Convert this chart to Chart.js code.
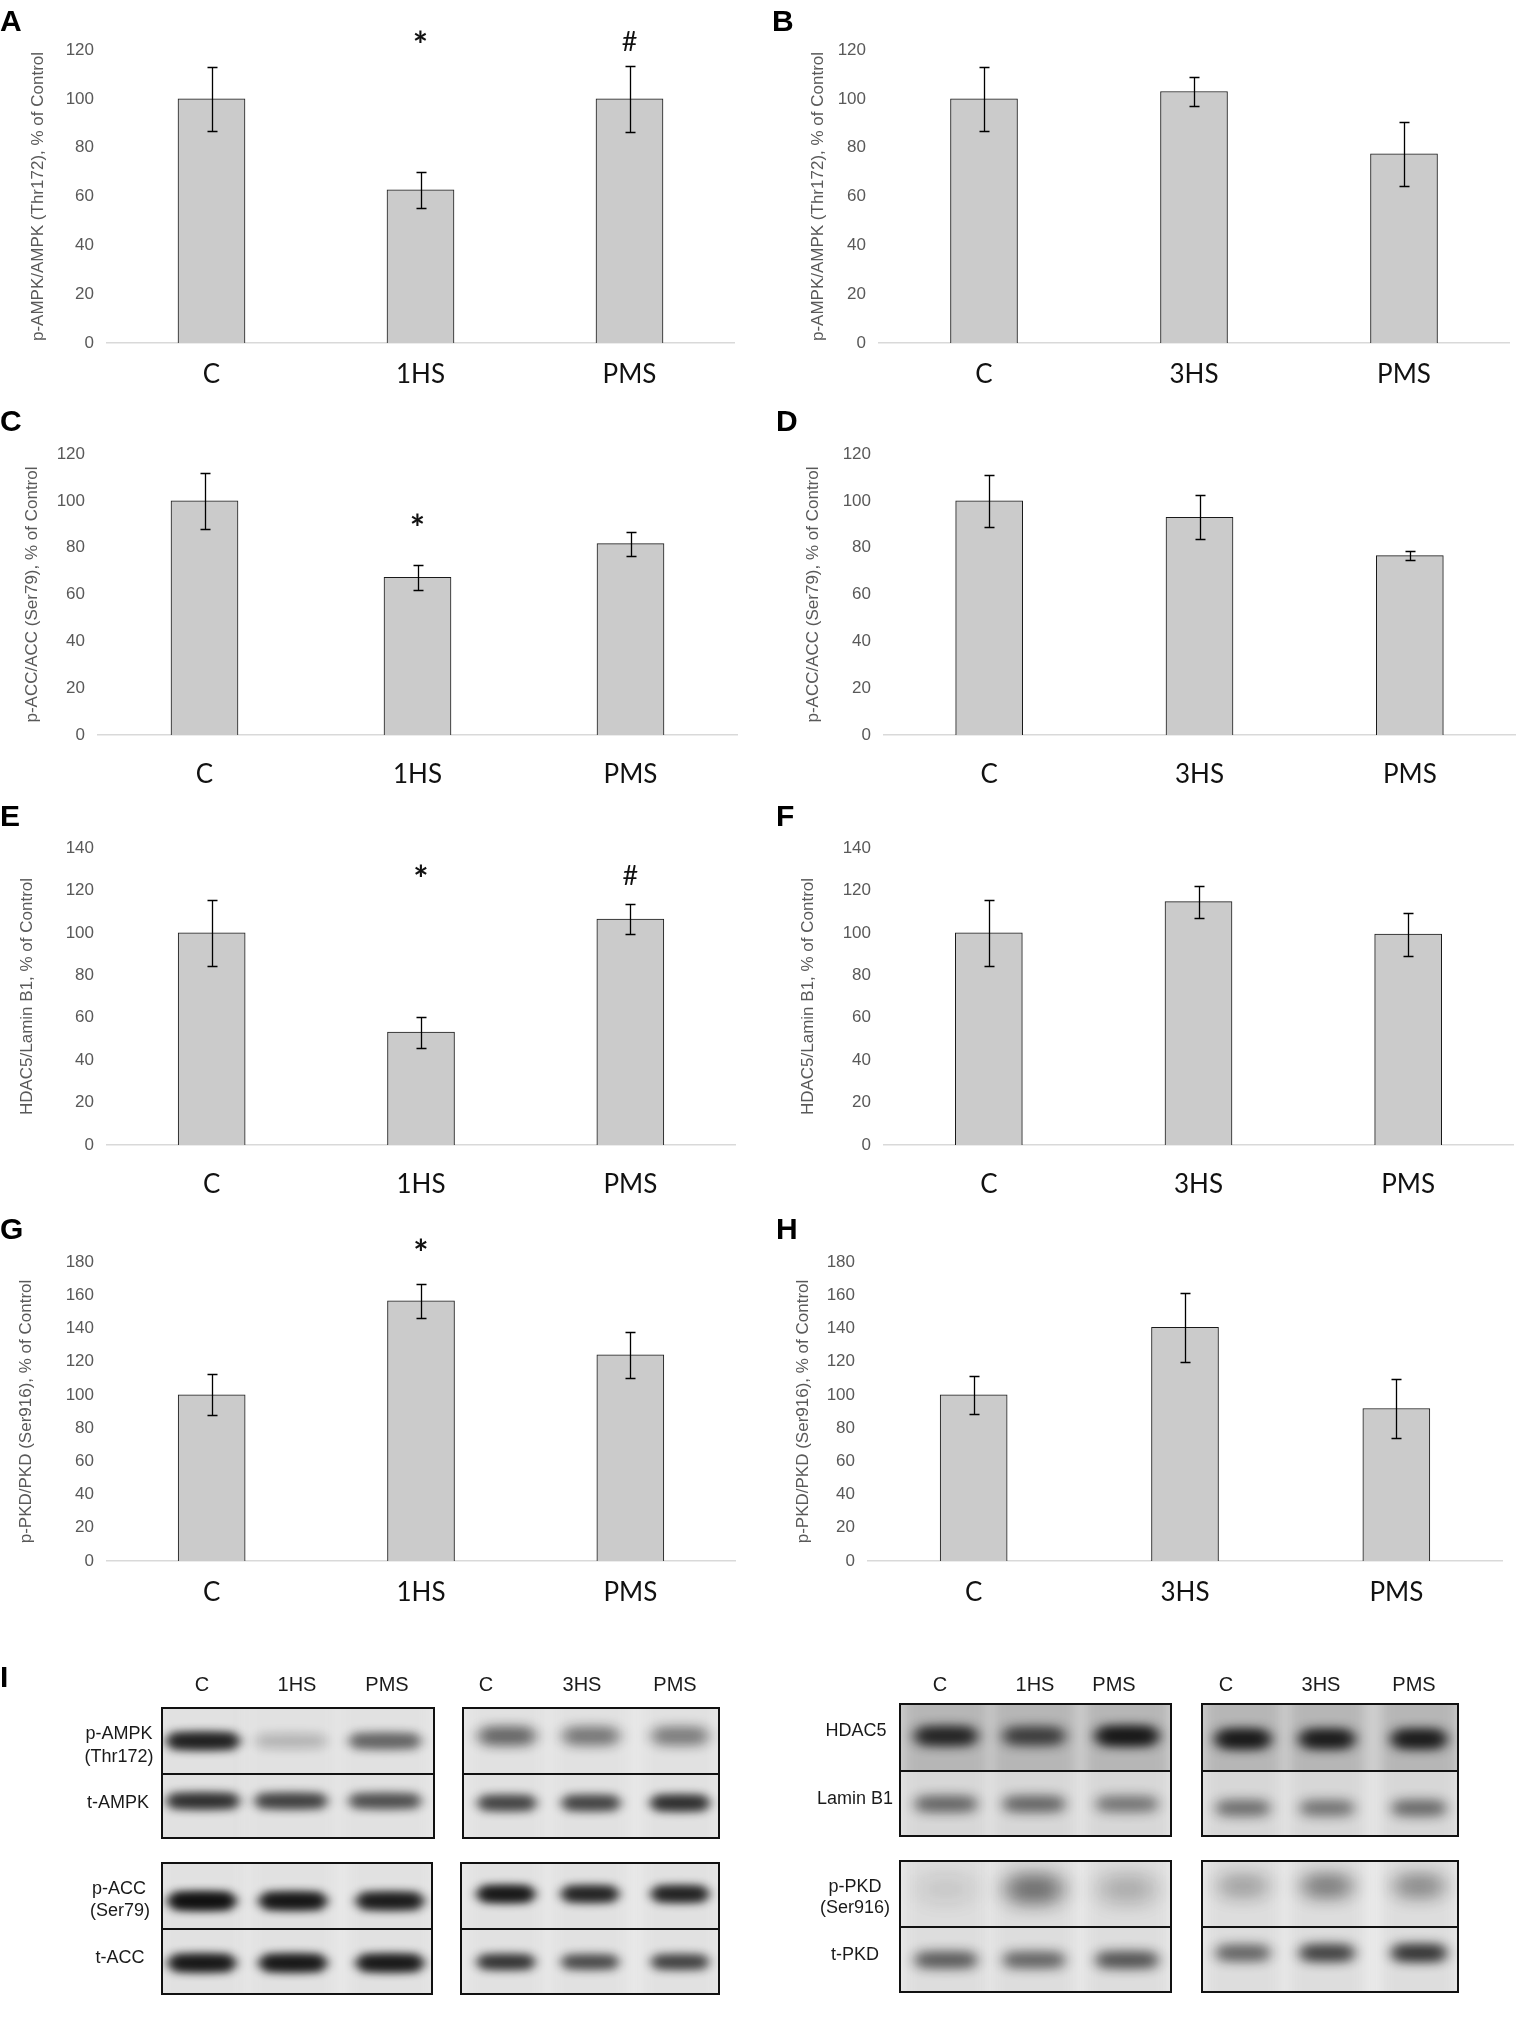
<!DOCTYPE html>
<html>
<head>
<meta charset="utf-8">
<title>AMPK / ACC / HDAC5 / PKD</title>
<script src="https://cdn.jsdelivr.net/npm/chart.js@4.4.1/dist/chart.umd.min.js"></script>
<style>
  body { margin: 0; background: #fff; width: 1521px; height: 2017px; position: relative; overflow: hidden;
         font-family: "Liberation Sans", Arial, sans-serif; }
  canvas.panel { position: absolute; }
  .letter { position: absolute; font-weight: bold; font-size: 30px; line-height: 1; color: #000; }
  .bt { position: absolute; line-height: 1; color: #1a1a1a; white-space: nowrap; text-align: center;
        transform: translate(-50%, -50%); }
</style>
</head>
<body>
<canvas id="blots" width="1521" height="2017" style="position:absolute;left:0;top:0"></canvas>
<script>
// ---- data ----
var cats1 = ['C', '1HS', 'PMS'];
var cats3 = ['C', '3HS', 'PMS'];

var ampk1 = [100, 62.7, 100];
var ampk1Err = [13, 7.5, 13.6];
var ampk1Marks = ['', '*', '#'];
var ampk3 = [100, 103, 77.5];
var ampk3Err = [13, 6.1, 13.1];

var acc1 = [100, 67.3, 81.7];
var acc1Err = [12, 5.5, 5.2];
var acc1Marks = ['', '*', ''];
var acc3 = [100, 93, 76.6];
var acc3Err = [11, 9.4, 1.8];

var hdac1 = [100, 53.2, 106.5];
var hdac1Err = [15.5, 7.3, 7];
var hdac1Marks = ['', '*', '#'];
var hdac3 = [100, 114.7, 99.4];
var hdac3Err = [15.5, 7.6, 10.1];

var pkd1 = [100, 156.6, 124.1];
var pkd1Err = [12.4, 10.2, 14];
var pkd1Marks = ['', '*', ''];
var pkd3 = [100, 140.6, 91.8];
var pkd3Err = [11.5, 20.8, 17.5];

// band intensities of the western blots (lane order as labelled)
var pAmpkI = [0.72, 0.1, 0.36];
var tAmpkI = [0.62, 0.52, 0.45];
var pAmpkIII = [0.36, 0.3, 0.28];
var tAmpkIII = [0.5, 0.5, 0.62];
var pAccI = [0.9, 0.82, 0.76];
var tAccI = [0.8, 0.8, 0.78];
var pAccIII = [0.82, 0.7, 0.72];
var tAccIII = [0.6, 0.48, 0.52];
var hdacBandI = [0.68, 0.5, 0.82];
var laminI = [0.36, 0.36, 0.3];
var hdacBandIII = [0.8, 0.76, 0.76];
var laminIII = [0.32, 0.3, 0.34];
var pPkdI = [0.05, 0.32, 0.12];
var tPkdI = [0.42, 0.38, 0.46];
var pPkdIII = [0.15, 0.26, 0.22];
var tPkdIII = [0.38, 0.54, 0.62];

// ---- panel layout ----
var panels = [
  {letter:'A', labels:cats1, values:ampk1, errors:ampk1Err, marks:ampk1Marks, max:120,
   title:'p-AMPK/AMPK (Thr172), % of Control', col:0, axisL:107, axisR:734, top:50, bottom:343, titleX:38, xPad:16, markAt:119.5, lx:0, ly:10},
  {letter:'B', labels:cats3, values:ampk3, errors:ampk3Err, marks:null, max:120,
   title:'p-AMPK/AMPK (Thr172), % of Control', col:760, axisL:879, axisR:1509, top:50, bottom:343, titleX:818, xPad:16, lx:772, ly:10},
  {letter:'C', labels:cats1, values:acc1, errors:acc1Err, marks:acc1Marks, max:120,
   title:'p-ACC/ACC (Ser79), % of Control', col:0, axisL:98, axisR:737, top:454, bottom:735, titleX:32, xPad:24, markAt:86, lx:0, ly:410},
  {letter:'D', labels:cats3, values:acc3, errors:acc3Err, marks:null, max:120,
   title:'p-ACC/ACC (Ser79), % of Control', col:760, axisL:884, axisR:1515, top:454, bottom:735, titleX:813, xPad:24, lx:776, ly:410},
  {letter:'E', labels:cats1, values:hdac1, errors:hdac1Err, marks:hdac1Marks, max:140,
   title:'HDAC5/Lamin B1, % of Control', col:0, axisL:107, axisR:735, top:848, bottom:1145, titleX:27, xPad:24, markAt:122.6, lx:0, ly:805},
  {letter:'F', labels:cats3, values:hdac3, errors:hdac3Err, marks:null, max:140,
   title:'HDAC5/Lamin B1, % of Control', col:760, axisL:884, axisR:1513, top:848, bottom:1145, titleX:808, xPad:24, lx:776, ly:805},
  {letter:'G', labels:cats1, values:pkd1, errors:pkd1Err, marks:pkd1Marks, max:180,
   title:'p-PKD/PKD (Ser916), % of Control', col:0, axisL:107, axisR:735, top:1262, bottom:1561, titleX:26, xPad:16, markAt:182, lx:0, ly:1218},
  {letter:'H', labels:cats3, values:pkd3, errors:pkd3Err, marks:null, max:180,
   title:'p-PKD/PKD (Ser916), % of Control', col:760, axisL:868, axisR:1502, top:1262, bottom:1561, titleX:803, xPad:16, lx:776, ly:1218}
];

var PAD_TOP = 48, X_H = 60;
var tickFont = { family: '"Liberation Sans", Arial, sans-serif', size: 17 };
var catFont = { family: 'Lato, "Open Sans", sans-serif', size: 26 };

// error bars + significance marks
var errorBarPlugin = {
  id: 'errorBars',
  afterDatasetsDraw: function(chart) {
    var ds = chart.data.datasets[0];
    var meta = chart.getDatasetMeta(0);
    var y = chart.scales.y;
    var ctx = chart.ctx;
    ctx.save();
    ctx.strokeStyle = '#000';
    ctx.lineWidth = 1.3;
    meta.data.forEach(function(bar, i) {
      var v = ds.data[i], e = ds.errors[i];
      var y1 = Math.round(y.getPixelForValue(v + e)) + 0.5;
      var y2 = Math.round(y.getPixelForValue(v - e)) + 0.5;
      var x = Math.round(bar.x) + 0.5;
      ctx.beginPath();
      ctx.moveTo(x, y1); ctx.lineTo(x, y2);
      ctx.moveTo(x - 5, y1); ctx.lineTo(x + 5, y1);
      ctx.moveTo(x - 5, y2); ctx.lineTo(x + 5, y2);
      ctx.stroke();
    });
    if (ds.marks) {
      var base = y.getPixelForValue(chart.options.plugins.errorBars.markAt);
      ctx.fillStyle = '#111';
      ctx.textAlign = 'center';
      ctx.textBaseline = 'alphabetic';
      meta.data.forEach(function(bar, i) {
        var m = ds.marks[i];
        if (!m) return;
        if (m === '*') {
          ctx.font = 'bold 36px Lato, "Open Sans", sans-serif';
          ctx.fillText(m, bar.x, base + 7);
        } else {
          ctx.font = '27px Lato, "Open Sans", sans-serif';
          ctx.fillText(m, bar.x, base);
        }
      });
    }
    ctx.restore();
  }
};

function addText(cls, txt, x, y, size) {
  var d = document.createElement('div');
  d.className = cls;
  d.textContent = txt;
  d.style.left = x + 'px';
  d.style.top = y + 'px';
  if (size) d.style.fontSize = size + 'px';
  document.body.appendChild(d);
  return d;
}

panels.forEach(function(p) {
  var W = p.col === 0 ? 760 : 761;
  var H = PAD_TOP + (p.bottom - p.top) + X_H;
  var cv = document.createElement('canvas');
  cv.className = 'panel';
  cv.width = W; cv.height = H;
  cv.style.left = p.col + 'px';
  cv.style.top = (p.top - PAD_TOP) + 'px';
  document.body.appendChild(cv);

  var yw = p.axisL - p.col;
  new Chart(cv.getContext('2d'), {
    type: 'bar',
    data: {
      labels: p.labels,
      datasets: [{
        data: p.values,
        errors: p.errors,
        marks: p.marks,
        backgroundColor: '#cbcbcb',
        borderColor: '#1a1a1a',
        borderWidth: 1,
        barThickness: 67
      }]
    },
    options: {
      responsive: false,
      animation: false,
      devicePixelRatio: 1,
      layout: { padding: { top: PAD_TOP, left: 0, bottom: 0, right: p.col + W - p.axisR } },
      plugins: {
        legend: { display: false },
        tooltip: { enabled: false },
        errorBars: { markAt: p.markAt }
      },
      scales: {
        x: {
          grid: { display: false, drawTicks: false },
          border: { display: true, color: '#d9d9d9', width: 1.5 },
          ticks: { font: catFont, color: '#111', padding: p.xPad, maxRotation: 0 },
          afterFit: function(s) { s.height = X_H; }
        },
        y: {
          min: 0, max: p.max,
          grid: { display: false, drawTicks: false },
          border: { display: false },
          ticks: { stepSize: 20, font: tickFont, color: '#595959', padding: 13 },
          title: {
            display: true, text: p.title, color: '#595959',
            font: { family: '"Liberation Sans", Arial, sans-serif', size: 17 },
            padding: { top: p.titleX - p.col - 10.2, bottom: 0 }
          },
          afterFit: function(s) { s.width = yw; }
        }
      }
    },
    plugins: [errorBarPlugin]
  });

  addText('letter', p.letter, p.lx, p.ly - 4);
});
addText('letter', 'I', 0, 1662);

// ---- western blot panel I ----
var g1 = { x0: 162, x1: 434, lanes: [203, 291, 385], bw: 80 };
var g1b = { x0: 162, x1: 432, lanes: [202, 293, 390], bw: 74 };
var g2 = { x0: 463, x1: 719, lanes: [507, 591, 680], bw: 66 };
var g2b = { x0: 461, x1: 719, lanes: [506, 590, 680], bw: 64 };
var g3 = { x0: 900, x1: 1171, lanes: [946, 1034, 1127], bw: 70 };
var g4 = { x0: 1202, x1: 1458, lanes: [1243, 1327, 1419], bw: 62 };

var bgLight = { lane: '#e1e1e1', gap: '#ebebeb' };
var bgHdac = { lane: '#b6b6b6', gap: '#d0d0d0' };
var bgLamin = { lane: '#d7d7d7', gap: '#e5e5e5' };
var bgPkd = { lane: '#dddddd', gap: '#ebebeb' };

var strips = [
  [g1, 1708, 1774, 1741, pAmpkI, bgLight, 16, 5],
  [g1, 1774, 1838, 1801, tAmpkI, bgLight, 15, 5],
  [g2, 1708, 1774, 1736, pAmpkIII, bgLight, 18, 6],
  [g2, 1774, 1838, 1803, tAmpkIII, bgLight, 15, 5],
  [g1b, 1863, 1929, 1901, pAccI, bgLight, 16, 5],
  [g1b, 1929, 1994, 1963, tAccI, bgLight, 16, 5],
  [g2b, 1863, 1929, 1894, pAccIII, bgLight, 15, 5],
  [g2b, 1929, 1994, 1962, tAccIII, bgLight, 14, 5],
  [g3, 1704, 1771, 1736, hdacBandI, bgHdac, 17, 6],
  [g3, 1771, 1836, 1804, laminI, bgLamin, 15, 6],
  [g4, 1704, 1771, 1739, hdacBandIII, bgHdac, 17, 6],
  [g4, 1771, 1836, 1808, laminIII, bgLamin, 15, 6],
  [g3, 1861, 1927, 1889, pPkdI, bgPkd, 28, 9],
  [g3, 1927, 1992, 1960, tPkdI, bgPkd, 15, 6],
  [g4, 1861, 1927, 1886, pPkdIII, bgPkd, 24, 8],
  [g4, 1927, 1992, 1953, tPkdIII, bgPkd, 15, 6]
];

var bctx = document.getElementById('blots').getContext('2d');
strips.forEach(function(s) {
  var g = s[0], y0 = s[1], y1 = s[2], by = s[3], vals = s[4], bg = s[5], h = s[6], blur = s[7];
  bctx.save();
  bctx.beginPath();
  bctx.rect(g.x0, y0, g.x1 - g.x0, y1 - y0);
  bctx.clip();
  bctx.fillStyle = bg.gap;
  bctx.fillRect(g.x0, y0, g.x1 - g.x0, y1 - y0);
  bctx.filter = 'blur(6px)';
  bctx.fillStyle = bg.lane;
  g.lanes.forEach(function(cx) {
    bctx.fillRect(cx - g.bw / 2 - 6, y0 - 20, g.bw + 12, y1 - y0 + 40);
  });
  bctx.filter = 'blur(' + blur + 'px)';
  vals.forEach(function(a, i) {
    var cx = g.lanes[i];
    bctx.fillStyle = 'rgba(12,12,12,' + a + ')';
    bctx.beginPath();
    bctx.ellipse(cx, by, g.bw / 2, h / 2, 0, 0, Math.PI * 2);
    bctx.fill();
    bctx.fillRect(cx - g.bw / 2 + h / 2, by - h / 2, g.bw - h, h);
  });
  bctx.restore();
});

// frames
var boxes = [
  [g1.x0, 1708, g1.x1, 1838, 1774], [g2.x0, 1708, g2.x1, 1838, 1774],
  [g1b.x0, 1863, g1b.x1, 1994, 1929], [g2b.x0, 1863, g2b.x1, 1994, 1929],
  [g3.x0, 1704, g3.x1, 1836, 1771], [g4.x0, 1704, g4.x1, 1836, 1771],
  [g3.x0, 1861, g3.x1, 1992, 1927], [g4.x0, 1861, g4.x1, 1992, 1927]
];
bctx.strokeStyle = '#111';
bctx.lineWidth = 2;
boxes.forEach(function(b) {
  bctx.strokeRect(b[0], b[1], b[2] - b[0], b[3] - b[1]);
  bctx.beginPath();
  bctx.moveTo(b[0], b[4]); bctx.lineTo(b[2], b[4]);
  bctx.stroke();
});

// blot texts
var laneTop = [
  ['C', 202], ['1HS', 297], ['PMS', 387], ['C', 486], ['3HS', 582], ['PMS', 675],
  ['C', 940], ['1HS', 1035], ['PMS', 1114], ['C', 1226], ['3HS', 1321], ['PMS', 1414]
];
laneTop.forEach(function(l) { addText('bt', l[0], l[1], 1684, 20); });

var rowLabels = [
  ['p-AMPK', 119, 1733], ['(Thr172)', 119, 1756], ['t-AMPK', 118, 1802],
  ['p-ACC', 119, 1888], ['(Ser79)', 120, 1910], ['t-ACC', 120, 1957],
  ['HDAC5', 856, 1730], ['Lamin B1', 855, 1798],
  ['p-PKD', 855, 1886], ['(Ser916)', 855, 1907], ['t-PKD', 855, 1954]
];
rowLabels.forEach(function(l) { addText('bt', l[0], l[1], l[2], 18); });
</script>
</body>
</html>
